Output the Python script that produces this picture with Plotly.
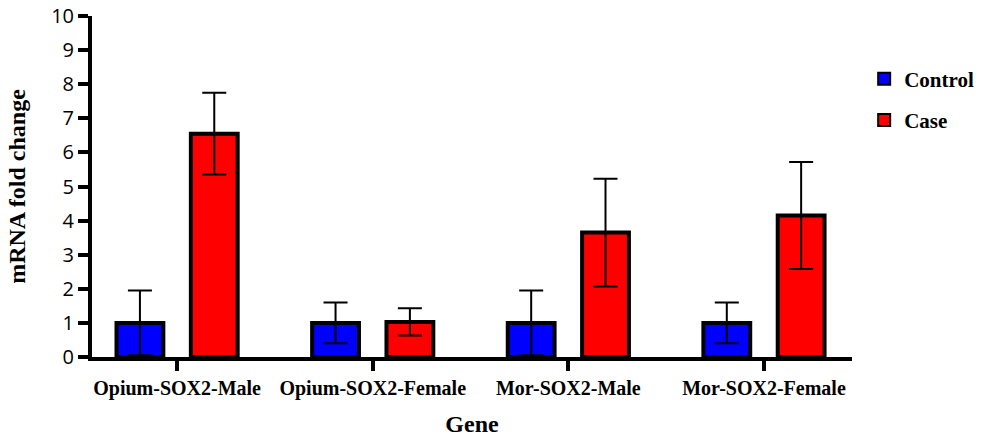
import plotly.graph_objects as go

genes = ["Opium-SOX2-Male", "Opium-SOX2-Female", "Mor-SOX2-Male", "Mor-SOX2-Female"]
control_vals = [1.0, 1.0, 1.0, 1.0]
control_err = [0.95, 0.6, 0.95, 0.6]
case_vals = [6.55, 1.03, 3.65, 4.15]
case_err = [1.2, 0.4, 1.58, 1.57]
y_ticks = list(range(0, 11))

serif = "Liberation Serif, Times New Roman, serif"

fig = go.Figure()
fig.add_trace(go.Bar(
    name="Control", x=genes, y=control_vals, legendgroup="a",
    marker=dict(color="#0000ff", line=dict(color="black", width=4)),
    error_y=dict(type="data", array=control_err, visible=True, color="black", thickness=2, width=12),
))
fig.add_trace(go.Bar(
    name="Case", x=genes, y=case_vals, legendgroup="b",
    marker=dict(color="#ff0000", line=dict(color="black", width=4)),
    error_y=dict(type="data", array=case_err, visible=True, color="black", thickness=2, width=12),
))

fig.update_layout(
    width=988, height=437,
    margin=dict(l=92, r=136, t=16, b=80, autoexpand=False),
    plot_bgcolor="white", paper_bgcolor="white",
    barmode="group", bargap=0.24, bargroupgap=0.37,
    showlegend=True,
    legend=dict(x=1.016, y=0.875, xanchor="left", yanchor="top",
                font=dict(family=serif, size=21, color="black", weight="bold"),
                itemsizing="constant", tracegroupgap=11,
                bgcolor="rgba(0,0,0,0)"),
    xaxis=dict(
        range=[-0.435, 3.45], automargin=False,
        showline=True, linecolor="black", linewidth=4,
        ticks="outside", ticklen=10, tickwidth=4, tickcolor="black",
        tickfont=dict(family=serif, size=20, color="black", weight="bold"),
        title=dict(text="<b>Gene</b>", font=dict(family=serif, size=24, color="black"), standoff=18),
        showgrid=False, zeroline=False,
    ),
    yaxis=dict(
        range=[0, 10], tickvals=y_ticks, automargin=False,
        ticklabeloverflow="allow",
        showline=True, linecolor="black", linewidth=4,
        ticks="outside", ticklen=10, tickwidth=4, tickcolor="black",
        tickfont=dict(family="Open Sans, sans-serif", size=20, color="black"),
        title=dict(text="<b>mRNA fold change</b>", font=dict(family=serif, size=24, color="black"), standoff=20),
        showgrid=False, zeroline=False,
    ),
)

fig.write_html("out.html", config={"displayModeBar": False},
               post_script="document.body.style.margin='0';document.body.style.overflow='hidden';")
